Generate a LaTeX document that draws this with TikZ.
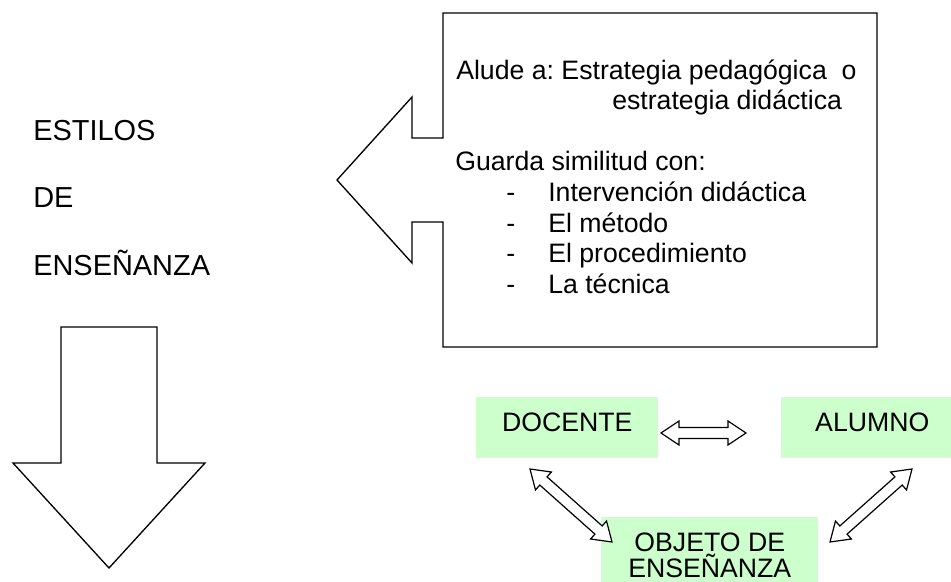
\documentclass[tikz,border=0pt]{standalone}
\usepackage{fontspec}
\setmainfont{Liberation Sans}
\usetikzlibrary{calc}
\frenchspacing
\definecolor{palegreen}{RGB}{204,255,204}
\tikzset{%
  % Specifications for style of nodes:
      outline/.style = {draw=black, line width=1pt, line join=miter},
      bigtext/.style = {anchor=base west, inner sep=0pt,
                        font=\fontsize{21.7pt}{26pt}\selectfont},
      boxtext/.style = {anchor=base west, inner sep=0pt,
                        font=\fontsize{20pt}{22.5pt}\selectfont},
     greenbox/.style = {rectangle, fill=palegreen, anchor=north west,
                        minimum width=136.5pt, minimum height=45.75pt,
                        inner sep=0pt, font=\fontsize{20pt}{19pt}\selectfont},
      oneline/.style = {text height=14pt, text depth=8pt},
    linkarrow/.style = {draw=black, line width=0.9pt, fill=white, line join=miter}
}
% hollow double arrow between two coordinates
\newcommand{\hlen}{13.5pt}
\newcommand{\hwid}{9pt}
\newcommand{\swid}{4.1pt}
\newcommand{\dblarrow}[2]{%
  \draw[linkarrow] (#1)
    -- ($(#1)!\hlen!(#2)!\hwid!90:(#2)$)
    -- ($(#1)!\hlen!(#2)!\swid!90:(#2)$)
    -- ($(#2)!\hlen!(#1)!\swid!-90:(#1)$)
    -- ($(#2)!\hlen!(#1)!\hwid!-90:(#1)$)
    -- (#2)
    -- ($(#2)!\hlen!(#1)!\hwid!90:(#1)$)
    -- ($(#2)!\hlen!(#1)!\swid!90:(#1)$)
    -- ($(#1)!\hlen!(#2)!\swid!-90:(#2)$)
    -- ($(#1)!\hlen!(#2)!\hwid!-90:(#2)$)
    -- cycle;}

\begin{document}
\begin{tikzpicture}[x=0.75pt, y=-0.75pt]
  \useasboundingbox (0,0) rectangle (951,582);

  % title on the left
  \node (estilos)   [bigtext] at (33,140) {ESTILOS};
  \node (de)        [bigtext] at (33,207) {DE};
  \node (ensenanza) [bigtext] at (33,275) {ENSEÑANZA};

  % big arrow pointing down
  \draw[outline] (61,327) -- (157,327) -- (157,463) -- (205,463)
                 -- (109,568) -- (13,463) -- (61,463) -- cycle;

  % box with arrow pointing left
  \draw[outline] (443,13) -- (877,13) -- (877,347) -- (443,347)
                 -- (443,222) -- (412,222) -- (412,263) -- (337,180)
                 -- (412,97) -- (412,138) -- (443,138) -- cycle;

  \node (alude)   [boxtext] at (456,79)  {Alude a: Estrategia pedagógica\ \ o};
  \node (didact)  [boxtext] at (612,109) {estrategia didáctica};
  \node (guarda)  [boxtext] at (455,170) {Guarda similitud con:};
  \foreach \y/\item in {201/Intervención didáctica, 232/El método,
                        262/El procedimiento, 293/La técnica} {
    \node [boxtext] at (506,\y) {-};
    \node [boxtext] at (548,\y) {\item};
  }

  % docente, alumno, objeto
  \node (docente) [greenbox, oneline] at (476,397) {DOCENTE};
  \node (alumno)  [greenbox, oneline] at (781,397) {ALUMNO};
  \node (objeto)  [greenbox, minimum width=162.75pt, minimum height=57pt,
                   align=center] at (601,517) {OBJETO DE\\ENSEÑANZA};

  \coordinate (da) at (661,433);
  \coordinate (ad) at (746,433);
  \coordinate (do) at (530,469);
  \coordinate (od) at (612,542);
  \coordinate (ao) at (912,469);
  \coordinate (oa) at (830,542);

  \dblarrow{da}{ad}
  \dblarrow{do}{od}
  \dblarrow{ao}{oa}
\end{tikzpicture}
\end{document}
